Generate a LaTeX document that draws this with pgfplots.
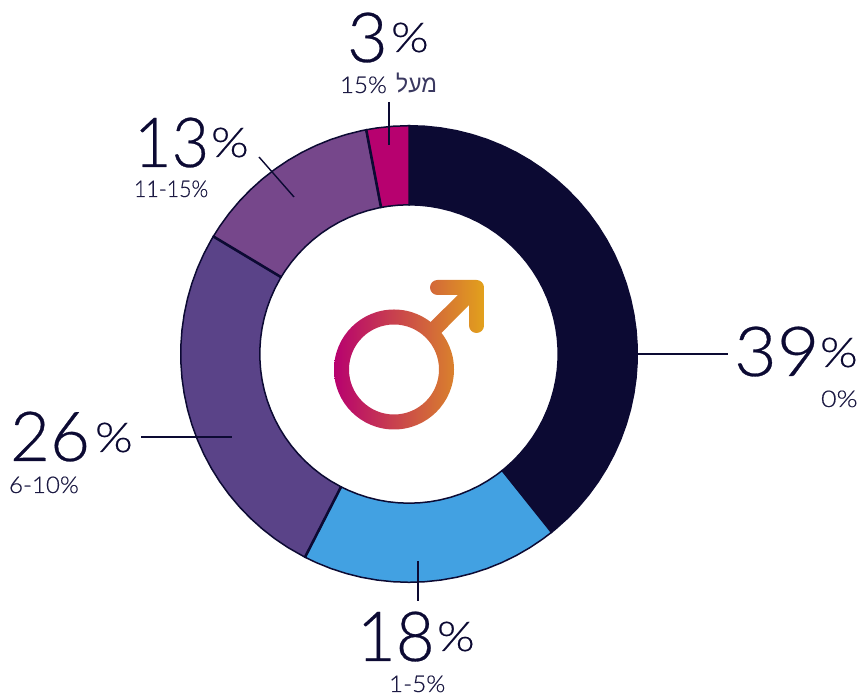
\documentclass[border=0pt]{standalone}
\usepackage{fontspec}
\usepackage{graphicx}
\usepackage{pgfplots}
\pgfplotsset{compat=1.18}
\usepgfplotslibrary{polar}
\setmainfont{Lato Light}
\newfontfamily\bigfont[FakeBold=0.4]{Lato Light}
\newfontfamily\subfont[FakeBold=0.5]{Lato Light}
\newfontfamily\hebfont[Script=Hebrew]{Liberation Sans}
\TeXXeTstate=1
\definecolor{navy}{HTML}{0C0A33}
\definecolor{subnavy}{HTML}{1C1A43}
\definecolor{hebnavy}{HTML}{3A3860}
\definecolor{sblue}{HTML}{42A1E2}
\definecolor{spurple}{HTML}{5A4388}
\definecolor{sviolet}{HTML}{76478B}
\definecolor{smag}{HTML}{B7016F}
\definecolor{sgold}{HTML}{E2A11C}
\newcommand{\bignum}[2]{\scalebox{#1}[1]{\bigfont\fontsize{69}{69}\selectfont\color{navy}#2}}
\newcommand{\pct}{\scalebox{1.18}[1]{\bigfont\fontsize{41}{41}\selectfont\color{navy}\%}}
\newcommand{\sublab}[2]{\scalebox{#1}[1]{\subfont\fontsize{23}{23}\selectfont\color{subnavy}#2}}
\begin{document}
\begin{tikzpicture}
\path[use as bounding box] (0,0) rectangle (859pt,695pt);
\begin{polaraxis}[at={(409pt,341pt)},anchor=center,scale only axis,width=458pt,height=458pt,
  xmin=0,xmax=360,ymin=0,ymax=229,hide axis,clip=false]
% 39% : 0
\addplot[draw=navy,line width=1.5pt,fill=navy,mark=none] coordinates {
(90,228.3)(86,228.3)(82,228.3)(78,228.3)(74,228.3)(70,228.3)(66,228.3)(62,228.3)(58,228.3)(54,228.3)(50,228.3)(46,228.3)(42,228.3)(38,228.3)(34,228.3)(30,228.3)(26,228.3)(22,228.3)(18,228.3)(14,228.3)(10,228.3)(6,228.3)(2,228.3)(358,228.3)(354,228.3)(350,228.3)(346,228.3)(342,228.3)(338,228.3)(334,228.3)(330,228.3)(326,228.3)(322,228.3)(318,228.3)(314,228.3)(310,228.3)(308.6,228.3)
(308.6,149.2)(310,149.2)(314,149.2)(318,149.2)(322,149.2)(326,149.2)(330,149.2)(334,149.2)(338,149.2)(342,149.2)(346,149.2)(350,149.2)(354,149.2)(358,149.2)(2,149.2)(6,149.2)(10,149.2)(14,149.2)(18,149.2)(22,149.2)(26,149.2)(30,149.2)(34,149.2)(38,149.2)(42,149.2)(46,149.2)(50,149.2)(54,149.2)(58,149.2)(62,149.2)(66,149.2)(70,149.2)(74,149.2)(78,149.2)(82,149.2)(86,149.2)(90,149.2)
} --cycle;
% 18% : 1-5
\addplot[draw=navy,line width=1.5pt,fill=sblue,mark=none] coordinates {
(308.6,228.3)(306,228.3)(302,228.3)(298,228.3)(294,228.3)(290,228.3)(286,228.3)(282,228.3)(278,228.3)(274,228.3)(270,228.3)(266,228.3)(262,228.3)(258,228.3)(254,228.3)(250,228.3)(246,228.3)(242.9,228.3)
(242.9,149.2)(246,149.2)(250,149.2)(254,149.2)(258,149.2)(262,149.2)(266,149.2)(270,149.2)(274,149.2)(278,149.2)(282,149.2)(286,149.2)(290,149.2)(294,149.2)(298,149.2)(302,149.2)(306,149.2)(308.6,149.2)
} --cycle;
% 26% : 6-10
\addplot[draw=navy,line width=1.5pt,fill=spurple,mark=none] coordinates {
(242.9,228.3)(238,228.3)(234,228.3)(230,228.3)(226,228.3)(222,228.3)(218,228.3)(214,228.3)(210,228.3)(206,228.3)(202,228.3)(198,228.3)(194,228.3)(190,228.3)(186,228.3)(182,228.3)(178,228.3)(174,228.3)(170,228.3)(166,228.3)(162,228.3)(158,228.3)(154,228.3)(150,228.3)(149,228.3)
(149,149.2)(150,149.2)(154,149.2)(158,149.2)(162,149.2)(166,149.2)(170,149.2)(174,149.2)(178,149.2)(182,149.2)(186,149.2)(190,149.2)(194,149.2)(198,149.2)(202,149.2)(206,149.2)(210,149.2)(214,149.2)(218,149.2)(222,149.2)(226,149.2)(230,149.2)(234,149.2)(238,149.2)(242.9,149.2)
} --cycle;
% 13% : 11-15
\addplot[draw=navy,line width=1.5pt,fill=sviolet,mark=none] coordinates {
(149,228.3)(146,228.3)(142,228.3)(138,228.3)(134,228.3)(130,228.3)(126,228.3)(122,228.3)(118,228.3)(114,228.3)(110,228.3)(106,228.3)(102,228.3)(100.8,228.3)
(100.8,149.2)(102,149.2)(106,149.2)(110,149.2)(114,149.2)(118,149.2)(122,149.2)(126,149.2)(130,149.2)(134,149.2)(138,149.2)(142,149.2)(146,149.2)(149,149.2)
} --cycle;
% 3% : above 15
\addplot[draw=navy,line width=1.5pt,fill=smag,mark=none] coordinates {
(100.8,228.3)(98,228.3)(94,228.3)(90,228.3)
(90,149.2)(94,149.2)(98,149.2)(100.8,149.2)
} --cycle;
% slice separators
\addplot[draw=navy,line width=2.6pt,mark=none] coordinates {(242.9,149.2)(242.9,228.3)};
\addplot[draw=navy,line width=2.6pt,mark=none] coordinates {(149,149.2)(149,228.3)};
\addplot[draw=navy,line width=2.6pt,mark=none] coordinates {(100.8,149.2)(100.8,228.3)};
\end{polaraxis}
\begin{scope}[x=1pt,y=-1pt,yshift=695pt]
% leader lines
\draw[navy,line width=1.4pt] (638,354)--(728,354);
\draw[navy,line width=1.4pt] (141,437)--(232,437);
\draw[navy,line width=1.4pt] (418,561)--(418,601);
\draw[navy,line width=1.4pt] (259,157)--(294,197);
\draw[navy,line width=1.4pt] (389,102)--(389,145);
% mars symbol
\begin{scope}
\clip (454,369.5) arc[start angle=0,end angle=360,radius=60]
 (439,369.5) arc[start angle=0,end angle=-360,radius=45]
 (437.5,280) -- (476.5,280) arc[start angle=-90,end angle=0,radius=7.5]
 -- (484,325.5) arc[start angle=0,end angle=180,radius=7.5]
 -- (469,305) -- (436,338.4) -- (425,327.4) -- (458,295) -- (437.5,295)
 arc[start angle=90,end angle=270,radius=7.5] -- cycle;
\shade[left color=smag,right color=sgold] (334,270) rectangle (484,440);
\end{scope}
% labels
\tikzset{lab/.style={inner sep=0pt,outer sep=0pt,anchor=base west}}
\node[lab] at (734,376) {\bignum{1.07}{39}};
\node[lab] at (820,367) {\pct};
\node[lab] at (821,407) {\sublab{1.17}{0\%}};
\node[lab] at (10,461) {\bignum{1.0}{26}};
\node[lab] at (95,452) {\pct};
\node[lab] at (9,493) {\sublab{1.05}{6-10\%}};
\node[lab] at (357,661) {\bignum{0.97}{18}};
\node[lab] at (437,651) {\pct};
\node[lab] at (389,692) {\sublab{1.06}{1-5\%}};
\node[lab] at (134,167) {\bignum{0.94}{13}};
\node[lab] at (211,157) {\pct};
\node[lab] at (134,197) {\sublab{0.93}{11-15\%}};
\node[lab] at (347,62) {\bignum{1.02}{3}};
\node[lab] at (391,52) {\pct};
\node[lab] at (340,93) {\sublab{1.05}{15\%}};
\node[inner sep=0pt,outer sep=0pt,anchor=base east] at (437,93) {\scalebox{0.95}[1]{\hebfont\fontsize{24}{24}\selectfont\color{hebnavy}\beginR מעל\endR}};
\end{scope}
\end{tikzpicture}
\end{document}
